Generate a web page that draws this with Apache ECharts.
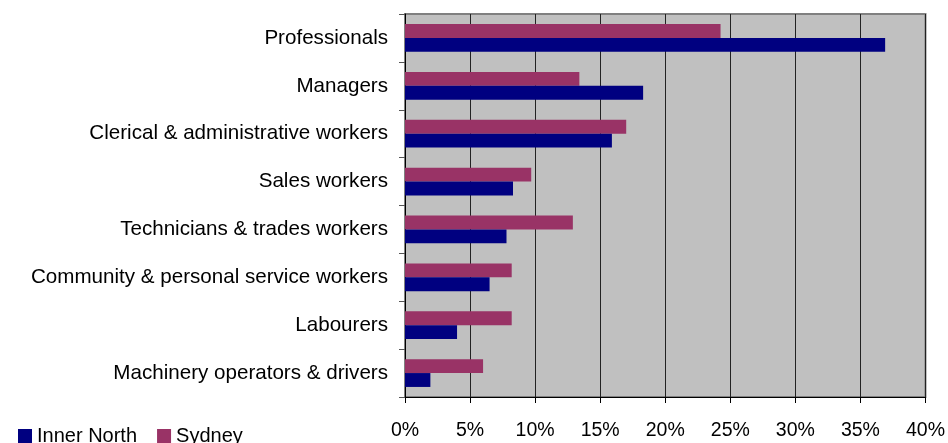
<!DOCTYPE html>
<html><head><meta charset="utf-8">
<script src="https://cdn.jsdelivr.net/npm/echarts@6/dist/echarts.min.js"></script>
<style>html,body{margin:0;padding:0;background:#fff}#c{width:948px;height:443px}</style>
</head><body><div id="c"></div>
<script>
const categories = ["Professionals","Managers","Clerical & administrative workers","Sales workers","Technicians & trades workers","Community & personal service workers","Labourers","Machinery operators & drivers"];
const innerNorth = [36.9, 18.3, 15.9, 8.3, 7.8, 6.5, 4.0, 1.95];
const sydney = [24.25, 13.4, 17.0, 9.7, 12.9, 8.2, 8.2, 6.0];
const xTicks = [0,5,10,15,20,25,30,35,40];

const chart = echarts.init(document.getElementById('c'), null, {renderer:'canvas'});
const font = 'Liberation Sans, Arial, sans-serif';
chart.setOption({
  animation:false,
  grid:{left:405,right:21,top:14,bottom:46,show:true,backgroundColor:'#C0C0C0',borderColor:'#808080',borderWidth:2},
  legend:{left:13,top:421,itemWidth:14,itemHeight:14,itemGap:20,icon:'rect',
    textStyle:{fontFamily:font,fontSize:20,color:'#000'},data:['Inner North','Sydney']},
  xAxis:{type:'value',min:xTicks[0],max:xTicks[xTicks.length-1],interval:5,
    axisLine:{show:true,lineStyle:{color:'#000'}},
    axisTick:{show:true,length:6,lineStyle:{color:'#000'}},
    axisLabel:{margin:24,fontFamily:font,fontSize:19.5,color:'#000',formatter:v=>v+'%'},
    splitLine:{show:true,lineStyle:{color:'#222',width:1}}},
  yAxis:{type:'category',inverse:true,data:categories,
    axisLine:{show:true,lineStyle:{color:'#000'}},
    axisTick:{show:true,length:6,lineStyle:{color:'#555'}},
    axisLabel:{margin:17,fontFamily:font,fontSize:20.6,color:'#000',padding:[3,0,0,0]}},
  series:[
    {name:'Sydney',type:'bar',data:sydney,itemStyle:{color:'#993366'},barGap:'0%',barCategoryGap:'42%'},
    {name:'Inner North',type:'bar',data:innerNorth,itemStyle:{color:'#000080'},barGap:'0%',barCategoryGap:'42%'}
  ]
});
</script></body></html>
